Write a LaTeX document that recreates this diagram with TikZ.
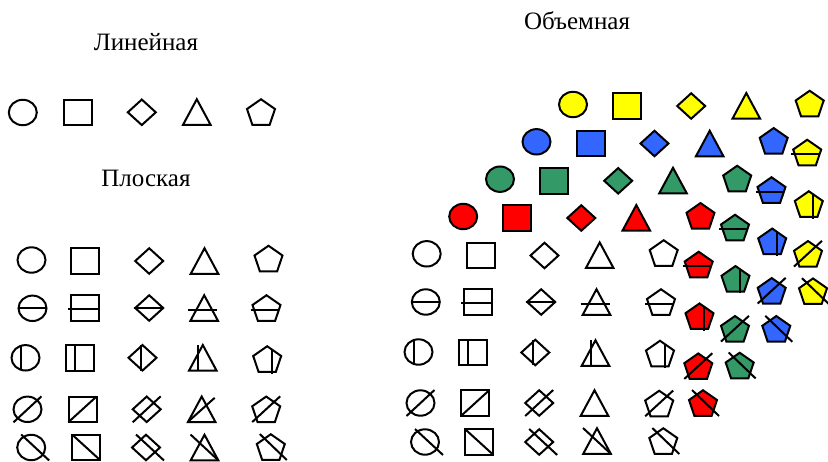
\documentclass[tikz,border=0pt]{standalone}
\usepackage{fontspec}
\setmainfont{Liberation Serif}
\definecolor{cyel}{HTML}{FFFF00}
\definecolor{cblu}{HTML}{3366FF}
\definecolor{cgrn}{HTML}{339966}
\definecolor{cred}{HTML}{FF0000}
\tikzset{
  shp/.style={draw=black, line width=2pt, line join=miter},
  lin/.style={draw=black, line width=2pt},
  ttl/.style={font=\fontsize{25}{29}\selectfont, inner sep=0pt}
}
% outlines (local coordinates, y downwards)
\newcommand\Scir[1]{\path[shp,fill=#1] (0,0) ellipse [x radius=14pt, y radius=12.7pt];}
\newcommand\Ssq[1]{\path[shp,fill=#1] (-14,-12.75) rectangle (14,12.75);}
\newcommand\Sdia[1]{\path[shp,fill=#1] (-14,0)--(0,-12.75)--(14,0)--(0,12.75)--cycle;}
\newcommand\Stri[1]{\path[shp,fill=#1] (0,-12.75)--(13.75,12.75)--(-13.75,12.75)--cycle;}
\newcommand\Spen[1]{\path[shp,fill=#1] (0,-12.75)--(14,-3)--(8.66,12.75)--(-8.66,12.75)--(-14,-3)--cycle;}
% crossing lines
\newcommand\Lcirn{}
\newcommand\Lcirh{\draw[lin] (-14,0)--(14,0);}
\newcommand\Lcirv{\draw[lin] (-5,-11.9)--(-5,11.9);}
\newcommand\Lcird{\draw[lin] (-14,13)--(14,-13);}
\newcommand\Lcirb{\draw[lin] (-10,-13)--(18,13);}
\newcommand\Lsqn{}
\newcommand\Lsqh{\draw[lin] (-16.5,1)--(14,1);}
\newcommand\Lsqv{\draw[lin] (-5,-12.75)--(-5,12.75);}
\newcommand\Lsqd{\draw[lin] (-14,12.75)--(14,-12.75);}
\newcommand\Lsqb{\draw[lin] (-14,-12.75)--(14,12.75);}
\newcommand\Ldian{}
\newcommand\Ldiah{\draw[lin] (-15.5,0)--(14,0);}
\newcommand\Ldiav{\draw[lin] (-2,-12.75)--(-2,12.75);}
\newcommand\Ldiad{\draw[lin] (-14,13)--(14,-13);}
\newcommand\Ldiab{\draw[lin] (-10,-13)--(18,13);}
\newcommand\Ltrin{}
\newcommand\Ltrih{\draw[lin] (-16,1.5)--(13,1.5);}
\newcommand\Ltriv{\draw[lin] (-5,-12.75)--(-5,12.75);}
\newcommand\Ltrid{\draw[lin] (-14,12.75)--(13,-11.5);}
\newcommand\Ltrib{\draw[lin] (-14,-13)--(14,13);}
\newcommand\Lpenn{}
\newcommand\Lpenh{\draw[lin] (-16,1.5)--(12.5,1.5);}
\newcommand\Lpenv{\draw[lin] (4.5,-9.6)--(4.5,14.5);}
\newcommand\Lpend{\draw[lin] (-14,12.75)--(14,-13);}
\newcommand\Lpenb{\draw[lin] (-11,-13)--(16,13);}
% \Shp{shape}{fill}{x}{y}{line}
\newcommand\Shp[5]{\begin{scope}[shift={(#3,#4)}]\csname S#1\endcsname{#2}\csname L#1#5\endcsname\end{scope}}
\begin{document}
\begin{tikzpicture}[x=1pt,y=-1pt]
\useasboundingbox (0,0) rectangle (828,461);
% titles
\node[ttl] (tlin) at (146,42) {Линейная};
\node[ttl] (tflat) at (146,178) {Плоская};
\node[ttl] (tvol) at (577,21) {Объемная};
% linear row
\Shp{cir}{white}{22.8}{112.5}{n}
\Shp{sq}{white}{77.8}{112.3}{n}
\Shp{dia}{white}{141.8}{112.3}{n}
\Shp{tri}{white}{196.8}{112}{n}
\Shp{pen}{white}{261}{112}{n}
% flat grid (left)
\Shp{cir}{white}{31.5}{260}{n}
\Shp{sq}{white}{85.2}{261}{n}
\Shp{dia}{white}{149.2}{261}{n}
\Shp{tri}{white}{204.5}{261}{n}
\Shp{pen}{white}{268.5}{258.5}{n}
\Shp{cir}{white}{32.5}{308.3}{h}
\Shp{sq}{white}{84.8}{308}{h}
\Shp{dia}{white}{149.2}{308}{h}
\Shp{tri}{white}{204.2}{308}{h}
\Shp{pen}{white}{266.5}{308}{h}
\Shp{cir}{white}{25.5}{357.8}{v}
\Shp{sq}{white}{80.2}{357.8}{v}
\Shp{dia}{white}{142.5}{357.8}{v}
\Shp{tri}{white}{202.8}{357.8}{v}
\Shp{pen}{white}{267.2}{359}{v}
\Shp{cir}{white}{27.5}{409.3}{d}
\Shp{sq}{white}{82.5}{409.3}{d}
\Shp{dia}{white}{146.7}{409.3}{d}
\Shp{tri}{white}{201.7}{409.3}{d}
\Shp{pen}{white}{266.2}{409.3}{d}
\Shp{cir}{white}{31.2}{447.5}{b}
\Shp{sq}{white}{86.3}{447.5}{b}
\Shp{dia}{white}{146}{447.5}{b}
\Shp{tri}{white}{204.5}{447.5}{b}
\Shp{pen}{white}{270.8}{447}{b}
% volumetric: coloured rows
\Shp{cir}{cyel}{573}{104.5}{n}
\Shp{sq}{cyel}{627.3}{106}{n}
\Shp{dia}{cyel}{691.2}{106}{n}
\Shp{tri}{cyel}{746.3}{105.8}{n}
\Shp{pen}{cyel}{809.7}{103.5}{n}
\Shp{cir}{cblu}{536.5}{141.8}{n}
\Shp{sq}{cblu}{590.7}{143.5}{n}
\Shp{dia}{cblu}{654.5}{143.5}{n}
\Shp{tri}{cblu}{709.7}{143.5}{n}
\Shp{pen}{cblu}{773.7}{140.8}{n}
\Shp{cir}{cgrn}{500}{179.2}{n}
\Shp{sq}{cgrn}{554}{180.8}{n}
\Shp{dia}{cgrn}{618.2}{180.8}{n}
\Shp{tri}{cgrn}{673}{180.5}{n}
\Shp{pen}{cgrn}{737.2}{178.5}{n}
\Shp{cir}{cred}{463.2}{216.5}{n}
\Shp{sq}{cred}{517.3}{218.2}{n}
\Shp{dia}{cred}{581.3}{218}{n}
\Shp{tri}{cred}{636.3}{217.8}{n}
\Shp{pen}{cred}{700.5}{215.8}{n}
% coloured crossed pentagons
\Shp{pen}{cyel}{807.2}{152.5}{h}
\Shp{pen}{cyel}{808.8}{204}{v}
\Shp{pen}{cyel}{808}{253.8}{d}
\Shp{pen}{cyel}{813}{291.2}{b}
\Shp{pen}{cblu}{771.5}{190}{h}
\Shp{pen}{cblu}{772.2}{241.3}{v}
\Shp{pen}{cblu}{771.7}{290.8}{d}
\Shp{pen}{cblu}{776.3}{328.8}{b}
\Shp{pen}{cgrn}{735}{227.5}{h}
\Shp{pen}{cgrn}{735.5}{278.8}{v}
\Shp{pen}{cgrn}{735}{328.8}{d}
\Shp{pen}{cgrn}{739.7}{365.5}{b}
\Shp{pen}{cred}{698.7}{264.5}{h}
\Shp{pen}{cred}{699.5}{316.2}{v}
\Shp{pen}{cred}{698.3}{366.2}{d}
\Shp{pen}{cred}{703}{403}{b}
% volumetric: white grid
\Shp{cir}{white}{426.7}{253.8}{n}
\Shp{sq}{white}{481}{255.5}{n}
\Shp{dia}{white}{544.5}{255.5}{n}
\Shp{tri}{white}{599.7}{255.2}{n}
\Shp{pen}{white}{663.7}{253}{n}
\Shp{cir}{white}{425.8}{302}{h}
\Shp{sq}{white}{477.8}{302}{h}
\Shp{dia}{white}{541.2}{302}{h}
\Shp{tri}{white}{596.5}{302}{h}
\Shp{pen}{white}{661}{302}{h}
\Shp{cir}{white}{418.5}{352}{v}
\Shp{sq}{white}{473.3}{352.5}{v}
\Shp{dia}{white}{535.3}{352.5}{v}
\Shp{tri}{white}{595.5}{353}{v}
\Shp{pen}{white}{660}{353.5}{v}
\Shp{cir}{white}{420.5}{403}{d}
\Shp{sq}{white}{475.2}{403}{d}
\Shp{dia}{white}{539.2}{403}{d}
\Shp{tri}{white}{594.5}{403}{n}
\Shp{pen}{white}{659.2}{403.5}{d}
\Shp{cir}{white}{425}{442}{b}
\Shp{sq}{white}{479.2}{442}{b}
\Shp{dia}{white}{539.2}{442}{b}
\Shp{tri}{white}{597}{441}{b}
\Shp{pen}{white}{663.3}{441}{b}
\end{tikzpicture}
\end{document}
